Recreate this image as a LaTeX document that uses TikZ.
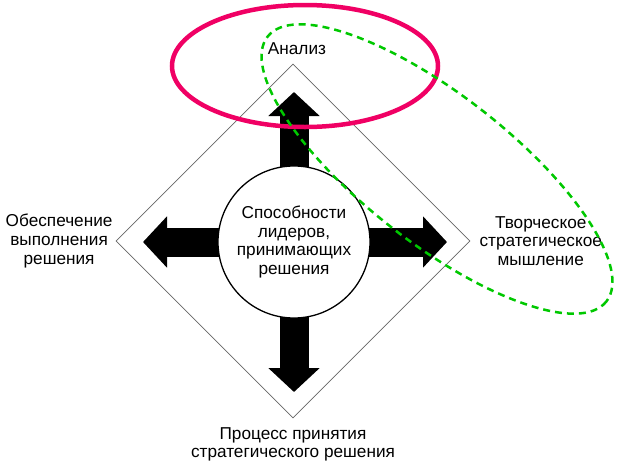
\documentclass[tikz,border=0pt]{standalone}
\usepackage{fontspec}
\setmainfont{Liberation Sans}
\usetikzlibrary{positioning, shapes.geometric, arrows.meta}

\definecolor{ringred}{RGB}{240,0,100}
\definecolor{ringgreen}{RGB}{0,200,0}

\tikzset{
  caption/.style={align=center, inner sep=0pt, font=\fontsize{17.2}{18.6}\selectfont},
  block arrow/.style={line width=29pt, -{Triangle[length=24pt, width=50pt]}},
}

\begin{document}
\begin{tikzpicture}[x=1pt, y=-1pt]
  \useasboundingbox (0,0) rectangle (635,464);
  \node [diamond, draw=black!60, line width=0.7pt, minimum size=354pt, inner sep=0pt] (frame) at (293,241) {};
  \coordinate (mid) at (294,242);
  \coordinate [above=150pt of mid] (tipN);
  \coordinate [below=150pt of mid] (tipS);
  \coordinate [left=151pt of mid] (tipW);
  \coordinate [right=153pt of mid] (tipE);
  \draw [block arrow] (mid) -- (tipN);
  \draw [block arrow] (mid) -- (tipS);
  \draw [block arrow] (mid) -- (tipW);
  \draw [block arrow] (mid) -- (tipE);
  \node [circle, draw, line width=1.3pt, fill=white, minimum size=152pt, caption] (hub) at (mid)
    {Способности\\лидеров,\\принимающих\\решения};
  \node [caption, above=9pt of frame.north, xshift=4pt] (analysis) {Анализ};
  \node [caption, left=3pt of frame.west] (execution) {Обеспечение\\выполнения\\решения};
  \node [caption, right=9pt of frame.east] (creative) {Творческое\\стратегическое\\мышление};
  \node [caption, below=9pt of frame.south] (process) {Процесс принятия\\стратегического решения};
  % highlighted groups
  \draw [ringred, line width=4.5pt] (305,66) ellipse [x radius=133, y radius=61];
  \draw [ringgreen, line width=2.5pt, dash pattern=on 7pt off 5pt, rotate around={-38:(437,169)}]
    (437,169) ellipse [x radius=215, y radius=74];
\end{tikzpicture}
\end{document}
